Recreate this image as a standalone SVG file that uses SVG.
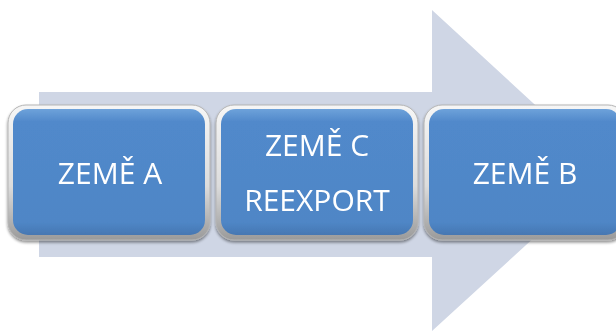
<svg xmlns="http://www.w3.org/2000/svg" width="616" height="331" viewBox="0 0 616 331">
<defs>
<linearGradient id="bevel" x1="0" y1="0" x2="0" y2="1">
<stop offset="0" stop-color="#f6f6f6"/>
<stop offset="0.6" stop-color="#dcdcdc"/>
<stop offset="1" stop-color="#9a9a9a"/>
</linearGradient>
<linearGradient id="blue" x1="0" y1="0" x2="0" y2="1">
<stop offset="0" stop-color="#6ea2da"/>
<stop offset="0.1" stop-color="#5189cb"/>
<stop offset="0.9" stop-color="#4f86c6"/>
<stop offset="1" stop-color="#4677b2"/>
</linearGradient>
<filter id="sh" x="-10%" y="-10%" width="120%" height="130%">
<feGaussianBlur in="SourceAlpha" stdDeviation="1.5"/>
<feOffset dy="2" result="b"/>
<feComponentTransfer><feFuncA type="linear" slope="0.45"/></feComponentTransfer>
<feMerge><feMergeNode/><feMergeNode in="SourceGraphic"/></feMerge>
</filter>
</defs>
<style>
.outer{fill:url(#bevel);stroke:#b4b4b4;stroke-width:1}
.inner{fill:url(#blue)}
.t{font-family:"Open Sans","Noto Sans",sans-serif;font-size:30px;fill:#ffffff;text-anchor:middle}
</style>
<polygon id="arrow" points="39,92 432,92 432,10 607,171 432,331 432,257 39,257" fill="#cfd6e5"/>
<g id="connectors"></g>
<g id="nodeA" filter="url(#sh)">
<rect class="outer" x="8" y="105" width="202" height="135" rx="18"/>
<rect class="inner" x="13" y="109" width="192" height="126" rx="15"/>
<text class="t" x="110" y="184">ZEMĚ A</text>
</g>
<g id="nodeC" filter="url(#sh)">
<rect class="outer" x="216" y="105" width="202" height="135" rx="18"/>
<rect class="inner" x="221" y="109" width="192" height="126" rx="15"/>
<text class="t" x="317" y="156">ZEMĚ C</text>
<text class="t" x="317" y="211">REEXPORT</text>
</g>
<g id="nodeB" filter="url(#sh)">
<rect class="outer" x="424" y="105" width="202" height="135" rx="18"/>
<rect class="inner" x="429" y="109" width="192" height="126" rx="15"/>
<text class="t" x="525" y="184">ZEMĚ B</text>
</g>
</svg>
